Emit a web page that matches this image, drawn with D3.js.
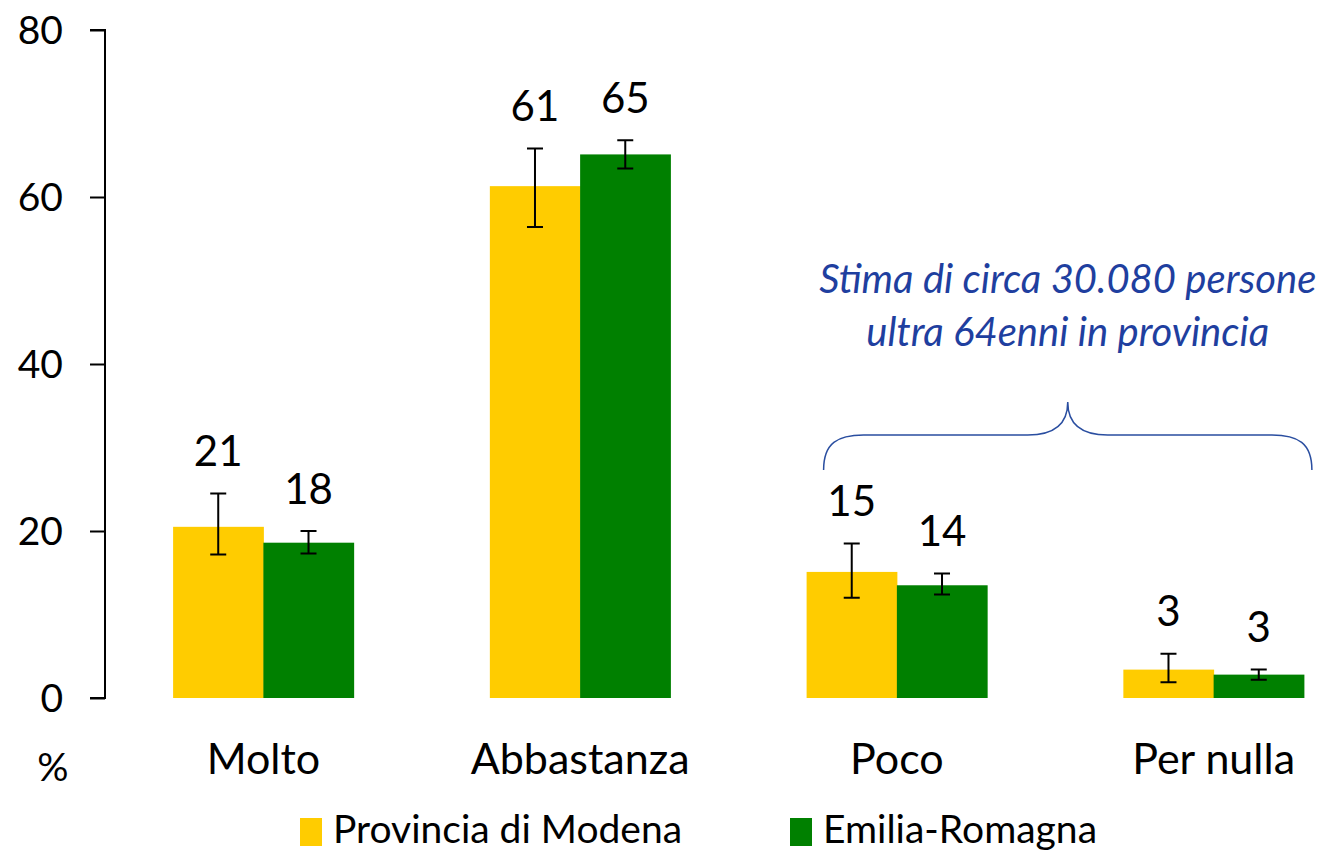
<!DOCTYPE html>
<html>
<head>
<meta charset="utf-8">
<script src="https://cdn.jsdelivr.net/npm/d3@7"></script>
<style>
  body { margin: 0; background: #fff; }
  text { font-family: Lato, "Open Sans", sans-serif; }
</style>
</head>
<body>
<div id="chart"></div>
<script>
// data
const categories = ["Molto", "Abbastanza", "Poco", "Per nulla"];
const seriesNames = ["Provincia di Modena", "Emilia-Romagna"];
const modena = [20.5, 61.3, 15.1, 3.4];
const modenaLow = [17.2, 56.4, 12.0, 1.9];
const modenaHigh = [24.5, 65.8, 18.5, 5.3];
const modenaLabels = ["21", "61", "15", "3"];
const emilia = [18.6, 65.1, 13.5, 2.8];
const emiliaLow = [17.3, 63.4, 12.4, 2.2];
const emiliaHigh = [20.0, 66.8, 14.9, 3.4];
const emiliaLabels = ["18", "65", "14", "3"];
const yTicks = [0, 20, 40, 60, 80];
const colors = ["#ffcc00", "#008000"];
const noteLines = ["Stima di circa 30.080 persone", "ultra 64enni in provincia"];

const width = 1324, height = 852;

const svg = d3.select("#chart")
  .append("svg")
    .attr("width", width)
    .attr("height", height);

const x = d3.scaleBand()
  .domain(categories)
  .range([105, 1372])
  .paddingInner(0.43)
  .paddingOuter(0.215);

const xs = d3.scaleBand()
  .domain(seriesNames)
  .range([0, x.bandwidth()]);

const y = d3.scaleLinear()
  .domain([0, 80])
  .range([698, 30]);

// y axis
const yAxis = svg.append("g")
  .attr("transform", "translate(105,0)")
  .call(d3.axisLeft(y).tickValues(yTicks).tickSize(15).tickPadding(27));
yAxis.select(".domain").attr("stroke", "#000").attr("stroke-width", 2).attr("d", "M-15," + y(80) + "H0V" + y(0) + "H-15");
yAxis.selectAll(".tick line").attr("stroke-width", 2);
yAxis.selectAll(".tick text").style("font-size", "39px").attr("fill", "#000").attr("dy", "0.35em")
  .style("font-family", "Lato, sans-serif");

// x labels
svg.append("g").selectAll("text")
  .data(categories)
  .join("text")
    .attr("x", d => x(d) + x.bandwidth() / 2)
    .attr("y", 774)
    .attr("text-anchor", "middle")
    .style("font-size", "43px")
    .text(d => d);

svg.append("text")
  .attr("x", 53).attr("y", 781)
  .attr("text-anchor", "middle")
  .style("font-size", "39px")
  .text("%");

const rows = [];
categories.forEach((c, i) => {
  rows.push({cat: c, s: seriesNames[0], v: modena[i], lo: modenaLow[i], hi: modenaHigh[i], lab: modenaLabels[i], col: colors[0]});
  rows.push({cat: c, s: seriesNames[1], v: emilia[i], lo: emiliaLow[i], hi: emiliaHigh[i], lab: emiliaLabels[i], col: colors[1]});
});

svg.append("g").selectAll("rect")
  .data(rows)
  .join("rect")
    .attr("x", d => x(d.cat) + xs(d.s))
    .attr("y", d => y(d.v))
    .attr("width", xs.bandwidth() + 0.5)
    .attr("height", d => y(0) - y(d.v))
    .attr("fill", d => d.col);

// error bars
const eb = svg.append("g").attr("stroke", "#000").attr("stroke-width", 2).attr("fill", "none");
eb.selectAll("path")
  .data(rows)
  .join("path")
    .attr("d", d => {
      const cx = x(d.cat) + xs(d.s) + xs.bandwidth() / 2;
      return "M" + (cx - 8) + "," + y(d.hi) + "H" + (cx + 8) +
             "M" + cx + "," + y(d.hi) + "V" + y(d.lo) +
             "M" + (cx - 8) + "," + y(d.lo) + "H" + (cx + 8);
    });

// value labels
svg.append("g").selectAll("text")
  .data(rows)
  .join("text")
    .attr("x", d => x(d.cat) + xs(d.s) + xs.bandwidth() / 2)
    .attr("y", d => y(d.hi) - 42)
    .attr("dy", "0.35em")
    .attr("text-anchor", "middle")
    .style("font-size", "42px")
    .text(d => d.lab);

// brace over Poco + Per nulla
const bx0 = x("Poco") + 17, bx1 = x("Per nulla") + x.bandwidth() + 8;
const bm = (bx0 + bx1) / 2, yEnd = 470, yMid = 435, yTip = 402;
svg.append("path")
  .attr("fill", "none")
  .attr("stroke", "#2a4ea0")
  .attr("stroke-width", 1.5)
  .attr("d",
    "M" + bx0 + "," + yEnd +
    "C" + bx0 + "," + (yMid + 8) + " " + (bx0 + 14) + "," + yMid + " " + (bx0 + 40) + "," + yMid +
    "H" + (bm - 40) +
    "C" + (bm - 14) + "," + yMid + " " + bm + "," + (yMid - 10) + " " + bm + "," + yTip +
    "C" + bm + "," + (yMid - 10) + " " + (bm + 14) + "," + yMid + " " + (bm + 40) + "," + yMid +
    "H" + (bx1 - 40) +
    "C" + (bx1 - 14) + "," + yMid + " " + bx1 + "," + (yMid + 8) + " " + bx1 + "," + yEnd);

svg.append("g").selectAll("text")
  .data(noteLines)
  .join("text")
    .attr("x", bm)
    .attr("y", (d, i) => 293 + i * 53)
    .attr("text-anchor", "middle")
    .attr("fill", "#1f3f9f")
    .style("font-size", "40px")
    .style("font-style", "italic")
    .text(d => d);

// legend
const legend = svg.append("g");
const legX = [300, 790];
seriesNames.forEach((s, i) => {
  legend.append("rect")
    .attr("x", legX[i]).attr("y", 818)
    .attr("width", 22).attr("height", 28)
    .attr("fill", colors[i]);
  legend.append("text")
    .attr("x", legX[i] + 33).attr("y", 843)
    .style("font-size", "39px")
    .text(s);
});
</script>
</body>
</html>
